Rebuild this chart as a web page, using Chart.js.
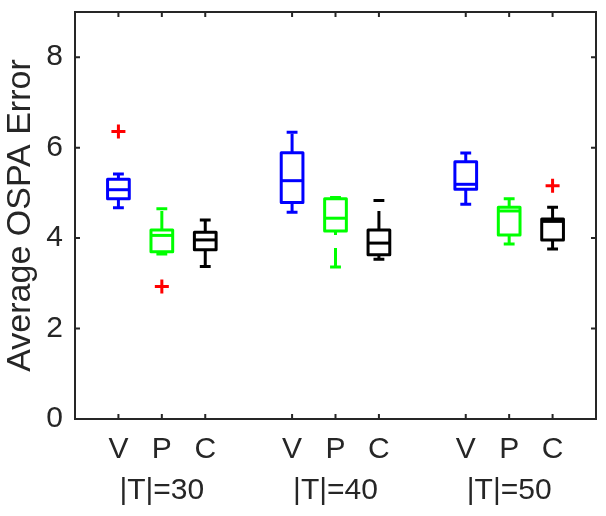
<!DOCTYPE html>
<html>
<head>
<meta charset="utf-8">
<script src="https://cdn.jsdelivr.net/npm/chart.js@4/dist/chart.umd.min.js"></script>
<style>
  body { margin: 0; background: #fff; }
  #wrap { width: 606px; height: 516px; }
</style>
</head>
<body>
<div id="wrap"><canvas id="box-chart"></canvas></div>
<script>
// Groups and methods along the x axis
const groups = ['|T|=30', '|T|=40', '|T|=50'];
const methods = ['V', 'P', 'C'];
const positions = [1, 2, 3, 5, 6, 7, 9, 10, 11];

// Box statistics (same order as positions)
const whiskerLow  = [4.67, 3.65, 3.37, 4.57, 3.36, 3.53, 4.75, 3.87, 3.76];
const q1          = [4.87, 3.70, 3.74, 4.79, 4.16, 3.63, 5.08, 4.07, 3.96];
const median      = [5.07, 4.06, 3.96, 5.27, 4.44, 3.89, 5.19, 4.60, 4.37];
const q3          = [5.30, 4.18, 4.13, 5.89, 4.87, 4.18, 5.69, 4.68, 4.42];
const whiskerHigh = [5.42, 4.65, 4.40, 6.34, 4.90, 4.83, 5.88, 4.87, 4.68];

// Outliers
const outlierPos = [1, 2, 11];
const outlierVal = [6.36, 2.93, 5.16];

const yTicks = [0, 2, 4, 6, 8];

const boxColors = ['#0000ff', '#00ff00', '#000000'];
const axisColor = '#262626';
const fontFamily = '"Liberation Sans", Arial, Helvetica, sans-serif';

const xTickLabels = positions.map((p, i) => {
    const m = methods[i % 3];
    return i % 3 === 1 ? [m, groups[Math.floor(i / 3)]] : m;
});

// draws the boxes, whiskers and medians with the chart's scales
const boxPlugin = {
    id: 'boxes',
    beforeDatasetsDraw(chart) {
        const { ctx, scales: { x, y } } = chart;
        ctx.save();
        ctx.lineWidth = 3;
        positions.forEach((pos, i) => {
            const color = boxColors[i % 3];
            const cx = x.getPixelForValue(pos);
            const half = x.getPixelForValue(pos + 0.25) - cx;
            const capHalf = x.getPixelForValue(pos + 0.125) - cx;
            const yLo = y.getPixelForValue(whiskerLow[i]);
            const yQ1 = y.getPixelForValue(q1[i]);
            const yMed = y.getPixelForValue(median[i]);
            const yQ3 = y.getPixelForValue(q3[i]);
            const yHi = y.getPixelForValue(whiskerHigh[i]);
            ctx.strokeStyle = color;

            // dashed whiskers, both drawn upward
            ctx.lineCap = 'butt';
            ctx.setLineDash([19, 13]);
            ctx.beginPath();
            ctx.moveTo(cx, yLo);
            ctx.lineTo(cx, yQ1);
            ctx.stroke();
            ctx.beginPath();
            ctx.moveTo(cx, yQ3);
            ctx.lineTo(cx, yHi);
            ctx.stroke();
            ctx.setLineDash([]);

            // caps
            ctx.beginPath();
            ctx.moveTo(cx - capHalf, yLo);
            ctx.lineTo(cx + capHalf, yLo);
            ctx.moveTo(cx - capHalf, yHi);
            ctx.lineTo(cx + capHalf, yHi);
            ctx.stroke();

            // box
            ctx.lineJoin = 'round';
            ctx.strokeRect(cx - half, yQ3, half * 2, yQ1 - yQ3);

            // median
            ctx.beginPath();
            ctx.moveTo(cx - half, yMed);
            ctx.lineTo(cx + half, yMed);
            ctx.stroke();
        });
        ctx.restore();
    },
    afterDraw(chart) {
        // axes box with inward ticks on all four sides
        const { ctx, chartArea: a, scales: { x, y } } = chart;
        const tick = 5;
        ctx.save();
        ctx.strokeStyle = axisColor;
        ctx.lineWidth = 2;
        ctx.lineCap = 'square';
        ctx.strokeRect(a.left, a.top, a.right - a.left, a.bottom - a.top);
        ctx.lineCap = 'butt';
        ctx.beginPath();
        x.ticks.forEach((t, i) => {
            const px = x.getPixelForTick(i);
            ctx.moveTo(px, a.bottom);
            ctx.lineTo(px, a.bottom - tick);
            ctx.moveTo(px, a.top);
            ctx.lineTo(px, a.top + tick);
        });
        y.ticks.forEach((t, i) => {
            const py = y.getPixelForTick(i);
            ctx.moveTo(a.left, py);
            ctx.lineTo(a.left + tick, py);
            ctx.moveTo(a.right, py);
            ctx.lineTo(a.right - tick, py);
        });
        ctx.stroke();
        ctx.restore();
    }
};

document.addEventListener('DOMContentLoaded', function() {
    const ctx = document.getElementById('box-chart').getContext('2d');
    new Chart(ctx, {
        type: 'scatter',
        data: {
            datasets: [{
                label: 'Outliers',
                data: outlierPos.map((p, i) => ({ x: p, y: outlierVal[i] })),
                pointStyle: 'cross',
                pointRadius: 7,
                borderColor: '#ff0000',
                backgroundColor: '#ff0000',
                borderWidth: 3
            }]
        },
        options: {
            responsive: true,
            maintainAspectRatio: false,
            animation: false,
            layout: { padding: { top: 12, right: 10, left: 0, bottom: 0 } },
            plugins: {
                legend: { display: false },
                tooltip: { enabled: false }
            },
            scales: {
                x: {
                    type: 'linear',
                    min: 0,
                    max: 12,
                    grid: { display: false, drawTicks: false },
                    border: { display: false },
                    afterBuildTicks: s => { s.ticks = positions.map(v => ({ value: v })); },
                    afterFit: s => { s.height = 97; s.paddingLeft = 0; s.paddingRight = 0; },
                    ticks: {
                        autoSkip: false,
                        maxRotation: 0,
                        padding: 10,
                        color: axisColor,
                        font: { family: fontFamily, size: 30, lineHeight: 41 / 30 },
                        callback: (v, i) => xTickLabels[i]
                    }
                },
                y: {
                    min: 0,
                    max: 9,
                    grid: { display: false, drawTicks: false },
                    border: { display: false },
                    afterBuildTicks: s => { s.ticks = yTicks.map(v => ({ value: v })); },
                    afterFit: s => { s.width = 75; s.paddingTop = 0; s.paddingBottom = 0; },
                    ticks: {
                        padding: 12,
                        color: axisColor,
                        font: { family: fontFamily, size: 30 }
                    },
                    title: {
                        display: true,
                        text: 'Average OSPA Error',
                        color: axisColor,
                        padding: { top: 0, bottom: 0 },
                        font: { family: fontFamily, size: 34 }
                    }
                }
            }
        },
        plugins: [boxPlugin]
    });
});
</script>
</body>
</html>
